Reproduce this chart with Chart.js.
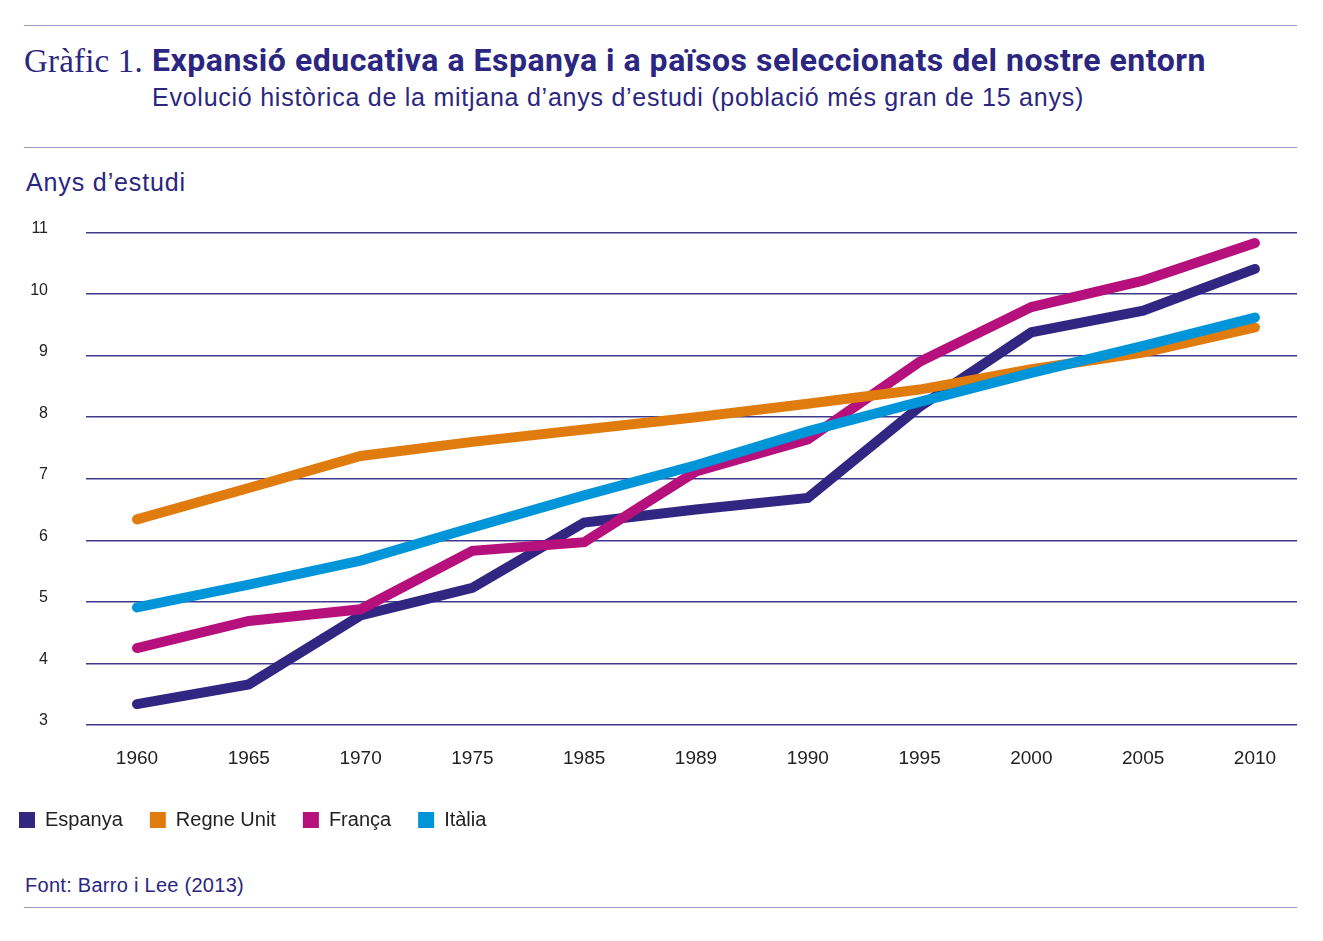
<!DOCTYPE html>
<html lang="ca">
<head>
<meta charset="utf-8">
<script src="https://cdn.jsdelivr.net/npm/chart.js@4"></script>
<style>
  body { margin: 0; background: #fff; width: 1323px; height: 941px; position: relative; overflow: hidden; }
  .rule { position: absolute; left: 24px; width: 1273px; height: 0; border-top: 1.5px solid #9c9ac4; }
  .txt { position: absolute; white-space: nowrap; color: #2b2680; line-height: 1; }
  #serif { font-family: "Liberation Serif", "DejaVu Serif", serif; font-size: 33px; left: 24px; top: 45px; }
  #title { font-family: "Roboto", "Liberation Sans", sans-serif; font-weight: 700; font-size: 32px; left: 152px; top: 44px; }
  #subtitle { font-family: "Liberation Sans", sans-serif; font-size: 25px; left: 152px; top: 85px; }
  #ylabel { font-family: "Liberation Sans", sans-serif; font-size: 25px; left: 26px; top: 170px; }
  #source { font-family: "Liberation Sans", sans-serif; font-size: 20px; left: 25px; top: 875px; }
  #wrap { position: absolute; left: 0; top: 185px; width: 1323px; height: 681px; }
</style>
</head>
<body>
<div class="rule" style="top:25px"></div>
<div class="txt" id="serif">Gràfic 1.</div>
<div class="txt" id="title">Expansió educativa a Espanya i a països seleccionats del nostre entorn</div>
<div class="txt" id="subtitle">Evolució històrica de la mitjana d’anys d’estudi (població més gran de 15 anys)</div>
<div class="rule" style="top:147px"></div>
<div class="txt" id="ylabel">Anys d’estudi</div>
<div id="wrap"><canvas id="LineChart1"></canvas></div>
<div class="txt" id="source">Font: Barro i Lee (2013)</div>
<div class="rule" style="top:907px"></div>
<script>
// fit header texts to the widths they have in the original
function fitWidth(id, target) {
    const el = document.getElementById(id);
    const w = el.getBoundingClientRect().width;
    const n = el.textContent.length;
    el.style.letterSpacing = ((target - w) / n) + 'px';
}
fitWidth('serif', 119);
fitWidth('title', 1054);
fitWidth('subtitle', 932);
fitWidth('ylabel', 160);
fitWidth('source', 219);

const years = ['1960', '1965', '1970', '1975', '1985', '1989', '1990', '1995', '2000', '2005', '2010'];
const espanya = [3.34, 3.66, 4.78, 5.23, 6.29, 6.50, 6.69, 8.17, 9.38, 9.73, 10.41];
const regneUnit = [6.34, 6.85, 7.37, 7.60, 7.80, 8.00, 8.22, 8.45, 8.78, 9.05, 9.46];
const franca = [4.25, 4.69, 4.88, 5.83, 5.97, 7.12, 7.64, 8.90, 9.79, 10.22, 10.83];
const italia = [4.91, 5.28, 5.67, 6.21, 6.73, 7.22, 7.77, 8.25, 8.72, 9.16, 9.62];

const points = (arr) => arr.map((v, i) => ({ x: i, y: v }));

function serie(label, values, color, order) {
    return {
        label: label,
        data: points(values),
        borderColor: color,
        backgroundColor: color,
        borderWidth: 10,
        borderCapStyle: 'round',
        borderJoinStyle: 'miter',
        pointRadius: 0,
        tension: 0,
        order: order
    };
}

const ctx = document.getElementById('LineChart1').getContext('2d');
const LineChart1 = new Chart(ctx, {
    type: 'line',
    data: {
        datasets: [
            serie('Espanya', espanya, '#312783', 3),
            serie('Regne Unit', regneUnit, '#e07b0d', 1),
            serie('França', franca, '#b5107b', 2),
            serie('Itàlia', italia, '#0094d8', 0)
        ]
    },
    options: {
        responsive: true,
        maintainAspectRatio: false,
        animation: false,
        layout: { padding: { top: 17, left: -8, right: 26, bottom: 26 } },
        scales: {
            x: {
                type: 'linear',
                min: -0.456,
                max: 10.376,
                afterBuildTicks: (scale) => { scale.ticks = years.map((_, i) => ({ value: i })); },
                afterFit: (scale) => { scale.height = 58; },
                grid: { display: false },
                border: { display: false },
                ticks: {
                    autoSkip: false,
                    maxRotation: 0,
                    padding: 14,
                    color: '#222',
                    font: { family: 'Liberation Sans', size: 19 },
                    callback: (v) => years[v]
                }
            },
            y: {
                min: 3,
                max: 11,
                afterFit: (scale) => { scale.width = 94; },
                grid: { color: '#3d3a8e', lineWidth: 1.5, drawTicks: false },
                border: { display: false },
                ticks: {
                    stepSize: 1,
                    padding: 38,
                    labelOffset: -4,
                    color: '#222',
                    font: { family: 'Liberation Sans', size: 16 }
                }
            }
        },
        plugins: {
            tooltip: { enabled: false },
            legend: {
                position: 'bottom',
                align: 'start',
                labels: {
                    boxWidth: 16,
                    boxHeight: 16,
                    padding: 27,
                    color: '#222',
                    font: { family: 'Liberation Sans', size: 20 },
                    sort: (a, b) => a.datasetIndex - b.datasetIndex,
                    generateLabels: (chart) =>
                        Chart.defaults.plugins.legend.labels.generateLabels(chart)
                            .map(l => Object.assign(l, { lineWidth: 0 }))
                }
            }
        }
    }
});
</script>
</body>
</html>
